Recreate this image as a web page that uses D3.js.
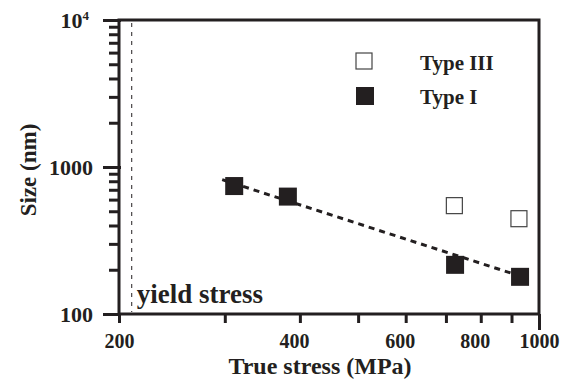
<!DOCTYPE html>
<html>
<head>
<meta charset="utf-8">
<script src="https://cdn.jsdelivr.net/npm/d3@7"></script>
<style>
 body { margin: 0; background: #fff; }
 svg text { font-family: "Liberation Serif", "Times New Roman", serif; font-weight: bold; fill: #231f20; }
</style>
</head>
<body>
<script>
 // values (stress in MPa, size in nm)
 var typeIStress = [311, 382, 725, 930];
 var typeISize = [742, 629, 216, 179];
 var typeIIIStress = [723, 926];
 var typeIIISize = [546, 445];
 // power-law fit drawn as a dashed line
 var fitStress = [297, 955];
 var fitSize = [820, 175];
 var yieldStress = 210;

 var xTicks = [200, 300, 400, 500, 600, 700, 800, 900, 1000];
 var xTickLabels = [200, 400, 600, 800, 1000];
 var yTicks = [100, 200, 300, 400, 500, 600, 700, 800, 900,
               1000, 2000, 3000, 4000, 5000, 6000, 7000, 8000, 9000, 10000];
 var yTickLabels = [100, 1000, 10000];
 var xMajor = [1000];

 var ink = '#231f20';
 var width = 565, height = 380;
 // note: "top" is taken by window.top, so plot edges get their own names
 var plotLeft = 119, plotRight = 539, plotTop = 20, plotBottom = 314;

 var x = d3.scaleLog().domain([200, 1000]).range([plotLeft, plotRight]);
 var y = d3.scaleLog().domain([100, 10000]).range([plotBottom, plotTop]);

 var svg = d3.select('body').append('svg')
     .attr('width', width)
     .attr('height', height)
     .style('background', '#fff');

 // x axis
 var xAxis = d3.axisBottom(x)
     .tickValues(xTicks)
     .tickSize(9)
     .tickSizeOuter(0)
     .tickPadding(11)
     .tickFormat(function(d) { return xTickLabels.indexOf(d) >= 0 ? d : ''; });

 var gx = svg.append('g')
     .attr('transform', 'translate(0,' + plotBottom + ')')
     .call(xAxis);
 gx.select('.domain').remove();
 gx.selectAll('line').attr('stroke', ink).attr('stroke-width', 3)
   .attr('y2', function(d) { return xMajor.indexOf(d) >= 0 ? 16 : 9; });
 gx.selectAll('text').style('font-size', '20px').attr('fill', ink)
   .attr('dx', function(d) { return (d === 200 || d === 1000) ? 0 : -6; });

 // y axis
 var yAxis = d3.axisLeft(y)
     .tickValues(yTicks)
     .tickSize(10)
     .tickSizeOuter(0)
     .tickPadding(16)
     .tickFormat(function(d) { return yTickLabels.indexOf(d) >= 0 ? d : ''; });

 var gy = svg.append('g')
     .attr('transform', 'translate(' + plotLeft + ',0)')
     .call(yAxis);
 gy.select('.domain').remove();
 gy.selectAll('line').attr('stroke', ink).attr('stroke-width', 3)
   .attr('x2', function(d) { return yTickLabels.indexOf(d) >= 0 ? -16 : -10; })
   .attr('x1', function(d) { return yTickLabels.indexOf(d) >= 0 ? 2 : 0; });
 gy.selectAll('text').style('font-size', '22px').attr('fill', ink);
 // 10^4 with a superscript
 gy.selectAll('.tick').filter(function(d) { return d === 10000; })
   .select('text')
   .text('10')
   .attr('x', -30)
   .append('tspan')
   .attr('dy', '-0.55em')
   .style('font-size', '13px')
   .text('4');

 // frame
 svg.append('rect')
    .attr('x', plotLeft)
    .attr('y', plotTop)
    .attr('width', plotRight - plotLeft)
    .attr('height', plotBottom - plotTop)
    .attr('fill', 'none')
    .attr('stroke', ink)
    .attr('stroke-width', 3);

 // yield stress line
 svg.append('line')
    .attr('x1', x(yieldStress)).attr('x2', x(yieldStress))
    .attr('y1', y(10000) + 3).attr('y2', y(100) - 2)
    .attr('stroke', ink)
    .attr('stroke-width', 1)
    .attr('stroke-dasharray', '4,5');

 svg.append('text')
    .attr('x', x(yieldStress) + 5)
    .attr('y', 303)
    .style('font-size', '27px')
    .text('yield stress');

 // fit line
 var line = d3.line()
     .x(function(d) { return x(d[0]); })
     .y(function(d) { return y(d[1]); });
 svg.append('path')
    .datum(d3.zip(fitStress, fitSize))
    .attr('d', line)
    .attr('fill', 'none')
    .attr('stroke', ink)
    .attr('stroke-width', 3)
    .attr('stroke-dasharray', '6,5');

 // Type III: open squares
 var s3 = 16;
 svg.selectAll('.t3')
    .data(d3.zip(typeIIIStress, typeIIISize))
    .enter().append('rect')
    .attr('class', 't3')
    .attr('x', function(d) { return x(d[0]) - s3 / 2; })
    .attr('y', function(d) { return y(d[1]) - s3 / 2; })
    .attr('width', s3).attr('height', s3)
    .attr('fill', '#fff')
    .attr('stroke', '#444')
    .attr('stroke-width', 1.2);

 // Type I: filled squares
 var s1 = 18;
 svg.selectAll('.t1')
    .data(d3.zip(typeIStress, typeISize))
    .enter().append('rect')
    .attr('class', 't1')
    .attr('x', function(d) { return x(d[0]) - s1 / 2; })
    .attr('y', function(d) { return y(d[1]) - s1 / 2; })
    .attr('width', s1).attr('height', s1)
    .attr('fill', ink);

 // legend
 var legend = svg.append('g');
 legend.append('rect')
    .attr('x', 356).attr('y', 53).attr('width', 16).attr('height', 16)
    .attr('fill', '#fff').attr('stroke', '#444').attr('stroke-width', 1.2);
 legend.append('text').attr('x', 420).attr('y', 70).style('font-size', '21px').text('Type III');
 legend.append('rect')
    .attr('x', 356).attr('y', 87).attr('width', 18).attr('height', 18)
    .attr('fill', ink);
 legend.append('text').attr('x', 420).attr('y', 104).style('font-size', '21px').text('Type I');

 // axis titles
 svg.append('text')
    .attr('x', (plotLeft + plotRight) / 2 - 9)
    .attr('y', 374)
    .attr('text-anchor', 'middle')
    .style('font-size', '24px')
    .text('True stress (MPa)');

 svg.append('text')
    .attr('transform', 'translate(36,' + ((plotTop + plotBottom) / 2 + 3) + ') rotate(-90)')
    .attr('text-anchor', 'middle')
    .style('font-size', '23px')
    .text('Size (nm)');
</script>
</body>
</html>
